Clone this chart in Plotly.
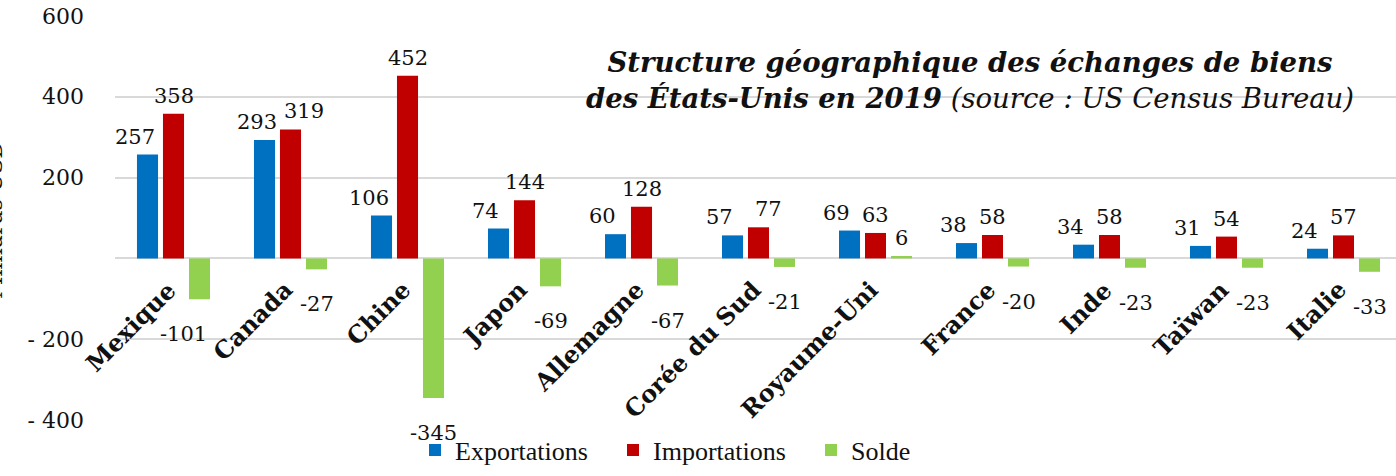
import plotly.graph_objects as go

categories = ["Mexique", "Canada", "Chine", "Japon", "Allemagne", "Corée du Sud",
              "Royaume-Uni", "France", "Inde", "Taïwan", "Italie"]
exportations = [257, 293, 106, 74, 60, 57, 69, 38, 34, 31, 24]
importations = [358, 319, 452, 144, 128, 77, 63, 58, 58, 54, 57]
solde = [-101, -27, -345, -69, -67, -21, 6, -20, -23, -23, -33]

y_tickvals = [-400, -200, 0, 200, 400, 600]
y_ticktext = ["- 400", "- 200", "", "200", "400", "600"]

series = [
    ("Exportations", exportations, "#0070C0"),
    ("Importations", importations, "#C00000"),
    ("Solde", solde, "#92D050"),
]

W, H = 1396, 476
ML, MR, MT, MB = 115, 0, 15, 55
cat_px = 117.0
plot_w = W - ML - MR
plot_h = H - MT - MB
x_range = [-0.5, -0.5 + plot_w / cat_px]
y_range = [-402, 602]

BARGAP = 1 - 78 / 117
slot_px = cat_px * (1 - BARGAP) / 3

NUM_FONT = "DejaVu Serif"
TXT = "#111111"

fig = go.Figure()
for name, vals, col in series:
    fig.add_trace(go.Bar(x=categories, y=vals, name=name, marker_color=col,
                         marker_line_width=0, cliponaxis=False))

ann = []
# data labels (a few were nudged by hand in the original)
label_tweak = [-13, 0, 0]
label_nudge = {("Solde", "Mexique"): -16, ("Importations", "Canada"): 13,
               ("Importations", "Corée du Sud"): 10, ("Exportations", "Canada"): 5}
for si, (name, vals, col) in enumerate(series):
    off = (si - 1) * slot_px + label_tweak[si]
    for c, v in zip(categories, vals):
        ann.append(dict(x=c, y=v, xref="x", yref="y", text=str(v), showarrow=False,
                        xanchor="center", yanchor="bottom" if v >= 0 else "top",
                        xshift=off + label_nudge.get((name, c), 0),
                        yshift=4 if v >= 0 else -21,
                        font=dict(family=NUM_FONT, size=21, color=TXT)))

# category labels at the zero line
for c in categories:
    ann.append(dict(x=c, y=0, xref="x", yref="y", text=c, showarrow=False,
                    textangle=-45, xanchor="right", yanchor="top",
                    xshift=11, yshift=-14,
                    font=dict(family="DejaVu Serif", size=24, color=TXT, weight="bold")))

def py(pix):
    """paper y coordinate of a pixel row"""
    return (H - MB - pix) / plot_h

# title
ann.append(dict(xref="paper", yref="paper", x=(970 - ML) / plot_w, y=py(44),
                xanchor="center", yanchor="top", showarrow=False,
                text="<b><i>Structure géographique des échanges de biens</i></b><br>"
                     "<b><i>des États-Unis en 2019</i></b> <i>(source : US Census Bureau)</i>",
                font=dict(family="DejaVu Serif", size=27.5, color=TXT)))

# y axis title (partly cut at the left edge)
ann.append(dict(xref="paper", yref="paper", x=0, xshift=-121, y=py(220),
                xanchor="center", yanchor="middle", showarrow=False, textangle=-90,
                text="Milliards USD", font=dict(family="DejaVu Serif", size=22, color=TXT)))

fig.update_layout(
    width=W, height=H,
    margin=dict(l=ML, r=MR, t=MT, b=MB, autoexpand=False),
    paper_bgcolor="white", plot_bgcolor="white",
    barmode="group", bargap=BARGAP, bargroupgap=0.19,
    showlegend=True,
    legend=dict(orientation="h", x=(415 - ML) / plot_w, xanchor="left",
                y=py(450), yanchor="middle", entrywidth=153,
                font=dict(family="Liberation Serif", size=26, color=TXT)),
    annotations=ann,
)
fig.update_xaxes(range=x_range, showticklabels=False, showgrid=False, zeroline=False,
                 showline=False, ticks="")
fig.update_yaxes(range=y_range, tickvals=y_tickvals, ticktext=y_ticktext,
                 showgrid=True, gridcolor="#D9D9D9", gridwidth=2,
                 zeroline=True, zerolinecolor="#D9D9D9", zerolinewidth=2,
                 showline=False, ticklabelstandoff=30,
                 tickfont=dict(family=NUM_FONT, size=22, color=TXT))

fig.write_html("out.html", config={"displayModeBar": False},
               post_script="document.body.style.margin='0';document.body.style.overflow='hidden';")
